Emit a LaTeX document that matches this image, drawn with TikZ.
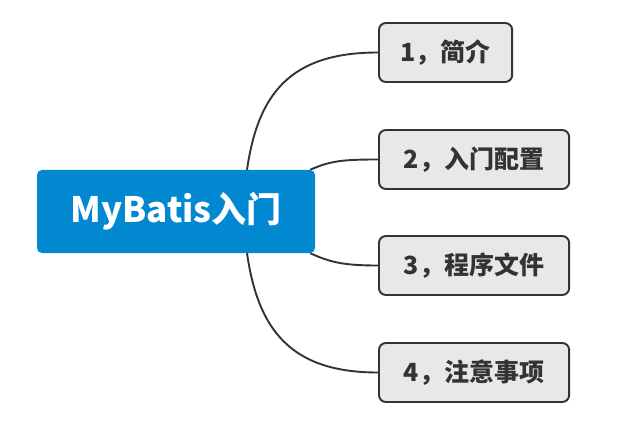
\documentclass[tikz,border=0pt]{standalone}
\usepackage{fontspec}
\setmainfont{Noto Sans CJK SC}
\usetikzlibrary{positioning}
\definecolor{MapBlue}{HTML}{0288D1}
\definecolor{MapInk}{HTML}{333333}
\definecolor{MapGray}{HTML}{E8E8E8}

\begin{document}
\begin{tikzpicture}[x=1pt,y=-1pt,
  root/.style={fill=MapBlue, text=white, rounded corners=5pt, inner sep=0pt,
    minimum width=278pt, minimum height=83pt, font=\fontsize{35}{40}\selectfont\bfseries},
  topic/.style={draw=MapInk, line width=1.9pt, fill=MapGray, text=MapInk, rounded corners=7pt,
    inner xsep=25pt, inner ysep=0pt, minimum height=59pt, anchor=west,
    font=\fontsize{25}{30}\selectfont\bfseries},
  branch/.style={draw=MapInk, line width=1.9pt}]
  \useasboundingbox (0,0) rectangle (617,443);
  % central topic
  \node[root] (root) at (176,211.5) {MyBatis入门};
  % subtopics
  \node[topic, inner xsep=21.5pt] (t1) at (378,52.5) {1，简介};
  \node[topic] (t2) at (378,159.5) {2，入门配置};
  \node[topic] (t3) at (378,265.5) {3，程序文件};
  \node[topic] (t4) at (378,372.5) {4，注意事项};
  % branches
  \draw[branch] ([xshift=71pt]root.north) .. controls +(11,-76) and +(-88,0) .. (t1.west);
  \draw[branch] ([xshift=-5pt]root.north east) .. controls +(20,-9) and +(-35,0) .. (t2.west);
  \draw[branch] ([xshift=-5pt]root.south east) .. controls +(20,9) and +(-35,0) .. (t3.west);
  \draw[branch] ([xshift=71pt]root.south) .. controls +(11,76) and +(-88,0) .. (t4.west);
\end{tikzpicture}
\end{document}
